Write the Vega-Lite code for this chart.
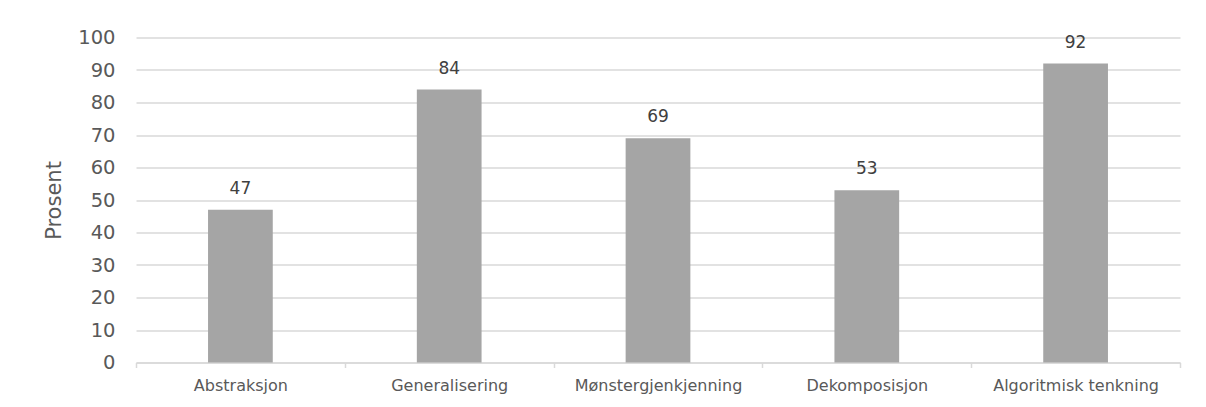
{
  "$schema": "https://vega.github.io/schema/vega-lite/v6.json",
  "width": 1044,
  "height": 325,
  "padding": {"left": 43, "top": 27.5, "right": 26, "bottom": 10},
  "background": "white",
  "config": {
    "view": {"stroke": null},
    "font": "DejaVu Sans"
  },
  "data": {
    "values": [
      {"ferdighet": "Abstraksjon", "prosent": 47},
      {"ferdighet": "Generalisering", "prosent": 84},
      {"ferdighet": "Mønstergjenkjenning", "prosent": 69},
      {"ferdighet": "Dekomposisjon", "prosent": 53},
      {"ferdighet": "Algoritmisk tenkning", "prosent": 92}
    ]
  },
  "encoding": {
    "x": {
      "field": "ferdighet",
      "type": "nominal",
      "sort": null,
      "scale": {"paddingInner": 0, "paddingOuter": 0},
      "axis": {
        "title": null,
        "labelAngle": 0,
        "labelFont": "DejaVu Sans",
        "labelFontSize": 16,
        "labelColor": "#595959",
        "labelPadding": 10,
        "tickBand": "extent",
        "tickColor": "#d9d9d9",
        "tickSize": 5,
        "tickWidth": 1.5,
        "domainColor": "#d9d9d9",
        "domainWidth": 1.5,
        "grid": false
      }
    },
    "y": {
      "field": "prosent",
      "type": "quantitative",
      "scale": {"domain": [0, 100], "nice": false},
      "axis": {
        "title": "Prosent",
        "titleFont": "DejaVu Sans",
        "titleFontSize": 21,
        "titleFontWeight": "normal",
        "titleColor": "#595959",
        "titlePadding": 13,
        "values": [0, 10, 20, 30, 40, 50, 60, 70, 80, 90, 100],
        "labelFont": "DejaVu Sans",
        "labelFontSize": 19.5,
        "labelColor": "#595959",
        "labelPadding": 21,
        "domain": false,
        "ticks": false,
        "grid": true,
        "gridColor": "#d9d9d9",
        "gridWidth": 1.5
      }
    }
  },
  "layer": [
    {
      "mark": {"type": "bar", "color": "#a5a5a5", "width": {"band": 0.31}}
    },
    {
      "mark": {
        "type": "text",
        "baseline": "alphabetic",
        "dy": -16,
        "fontSize": 17,
        "font": "DejaVu Sans",
        "color": "#404040"
      },
      "encoding": {"text": {"field": "prosent", "type": "quantitative"}}
    }
  ]
}
